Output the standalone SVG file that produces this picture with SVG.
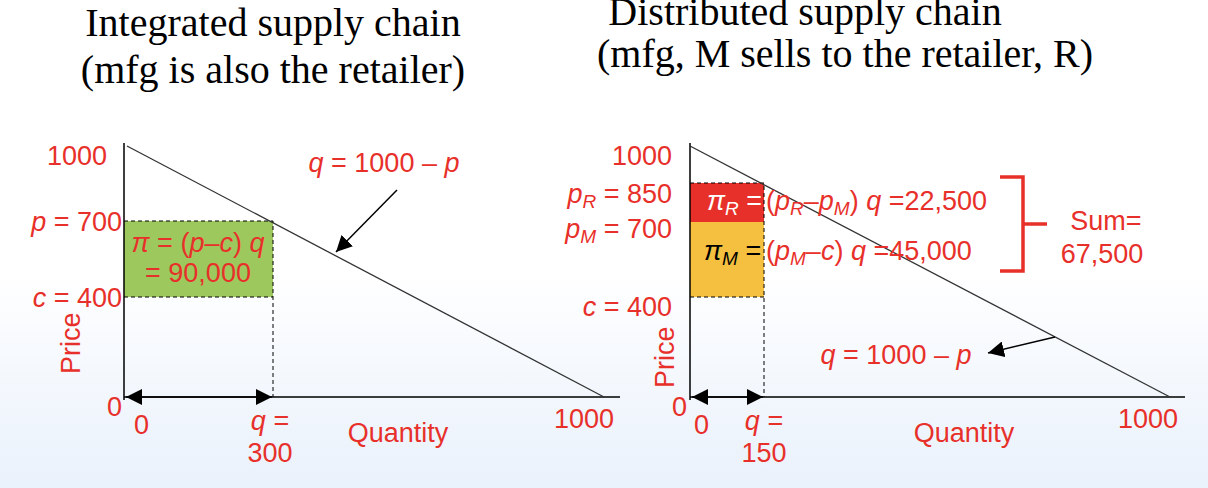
<svg xmlns="http://www.w3.org/2000/svg" width="1208" height="488" viewBox="0 0 1208 488">
<defs>
<linearGradient id="bg" x1="0" y1="0" x2="0" y2="1"><stop offset="0" stop-color="#ffffff"/><stop offset="0.55" stop-color="#ffffff"/><stop offset="1" stop-color="#e9f1fb"/></linearGradient>
<marker id="ab" viewBox="0 0 10 10" refX="10" refY="5" markerWidth="16" markerHeight="16" orient="auto-start-reverse" markerUnits="userSpaceOnUse"><path d="M0,0 L10,5 L0,10 z" fill="#000"/></marker>
<style>
.t{font-family:"Liberation Serif",serif;font-size:40px;fill:#000}
.r{font-family:"Liberation Sans",Arial,sans-serif;font-size:27px;fill:#e8302a}
.i{font-style:italic}
.s{font-style:italic;font-size:19px}
.ax{stroke:#000;stroke-width:1.5;fill:none}
.dl{stroke:#333;stroke-width:1.3;fill:none}
.ds{stroke:#000;stroke-width:1;stroke-dasharray:4,3;fill:none}
</style>
</defs>
<rect width="1208" height="488" fill="url(#bg)"/>
<text class="t" x="273" y="36" text-anchor="middle">Integrated supply chain</text>
<text class="t" x="273" y="83" text-anchor="middle">(mfg is also the retailer)</text>
<text class="t" x="805" y="25" text-anchor="middle">Distributed supply chain</text>
<text class="t" x="845" y="67" text-anchor="middle">(mfg, M sells to the retailer, R)</text>

<g id="left-chart">
<rect x="124" y="221" width="149" height="76" fill="#9dc85e"/>
<path class="ds" d="M124,221 H273 V397 M124,297 H273"/>
<path class="ax" d="M124,143 V400 M124,397 H620"/>
<path class="dl" d="M127,146 L604,397"/>
<text class="r" x="107" y="165" text-anchor="end">1000</text>
<text class="r" x="122" y="231" text-anchor="end"><tspan class="i">p</tspan> = 700</text>
<text class="r" x="122" y="307" text-anchor="end"><tspan class="i">c</tspan> = 400</text>
<text class="r" x="198" y="252" text-anchor="middle"><tspan class="i">π</tspan> = (<tspan class="i">p</tspan>–<tspan class="i">c</tspan>) <tspan class="i">q</tspan></text>
<text class="r" x="198" y="282" text-anchor="middle">= 90,000</text>
<text class="r" transform="translate(80,374) rotate(-90)">Price</text>
<text class="r" x="107" y="416">0</text>
<text class="r" x="134" y="434">0</text>
<text class="r" x="270" y="430" text-anchor="middle"><tspan class="i">q</tspan> =</text>
<text class="r" x="270" y="462" text-anchor="middle">300</text>
<text class="r" x="398" y="442" text-anchor="middle">Quantity</text>
<text class="r" x="584" y="428" text-anchor="middle">1000</text>
<text class="r" x="384" y="172" text-anchor="middle"><tspan class="i">q</tspan> = 1000 – <tspan class="i">p</tspan></text>
</g>

<g id="right-chart">
<rect x="690" y="183" width="74" height="39" fill="#e8302a"/>
<rect x="690" y="222" width="74" height="75" fill="#f5c040"/>
<path class="ds" d="M690,183 H764 V397 M690,297 H764"/>
<path class="ax" d="M690,143 V400 M690,397 H1185"/>
<path class="dl" d="M690,146 L1170,397"/>
<text class="r" x="672" y="165" text-anchor="end">1000</text>
<text class="r" x="672" y="203" text-anchor="end"><tspan class="i">p</tspan><tspan class="s" dy="5">R</tspan><tspan dy="-5"> = 850</tspan></text>
<text class="r" x="672" y="238" text-anchor="end"><tspan class="i">p</tspan><tspan class="s" dy="5">M</tspan><tspan dy="-5"> = 700</tspan></text>
<text class="r" x="672" y="316" text-anchor="end"><tspan class="i">c</tspan> = 400</text>
<text class="r" x="707" y="210" style="fill:#fff"><tspan class="i">π</tspan><tspan class="s" dy="5">R</tspan><tspan dy="-5"> =</tspan></text>
<text class="r" x="704" y="260" style="fill:#000"><tspan class="i">π</tspan><tspan class="s" dy="5">M</tspan><tspan dy="-5"> =</tspan></text>
<text class="r" x="766" y="210">(<tspan class="i">p</tspan><tspan class="s" dy="5">R</tspan><tspan dy="-5">–</tspan><tspan class="i">p</tspan><tspan class="s" dy="5">M</tspan><tspan dy="-5">) </tspan><tspan class="i">q</tspan> =22,500</text>
<text class="r" x="766" y="260">(<tspan class="i">p</tspan><tspan class="s" dy="5">M</tspan><tspan dy="-5">–</tspan><tspan class="i">c</tspan>) <tspan class="i">q</tspan> =45,000</text>
<path d="M1000,177 H1023 V271 H1000 M1023,224 H1047" stroke="#e8302a" stroke-width="3.5" fill="none"/>
<text class="r" x="1106" y="230" text-anchor="middle">Sum=</text>
<text class="r" x="1102" y="263" text-anchor="middle">67,500</text>
<text class="r" transform="translate(674,388) rotate(-90)">Price</text>
<text class="r" x="672" y="416">0</text>
<text class="r" x="694" y="434">0</text>
<text class="r" x="764" y="430" text-anchor="middle"><tspan class="i">q</tspan> =</text>
<text class="r" x="764" y="462" text-anchor="middle">150</text>
<text class="r" x="964" y="442" text-anchor="middle">Quantity</text>
<text class="r" x="1148" y="428" text-anchor="middle">1000</text>
<text class="r" x="896" y="364" text-anchor="middle"><tspan class="i">q</tspan> = 1000 – <tspan class="i">p</tspan></text>
</g>

<g id="connectors">
<path d="M397,190 L336,252" stroke="#000" stroke-width="1.5" marker-end="url(#ab)"/>
<path d="M1055,337 L988,353" stroke="#000" stroke-width="1.5" marker-end="url(#ab)"/>
<path d="M126,397 L272,397" stroke="#000" stroke-width="1.5" marker-start="url(#ab)" marker-end="url(#ab)"/>
<path d="M692,397 L763,397" stroke="#000" stroke-width="1.5" marker-start="url(#ab)" marker-end="url(#ab)"/>
</g>
</svg>
